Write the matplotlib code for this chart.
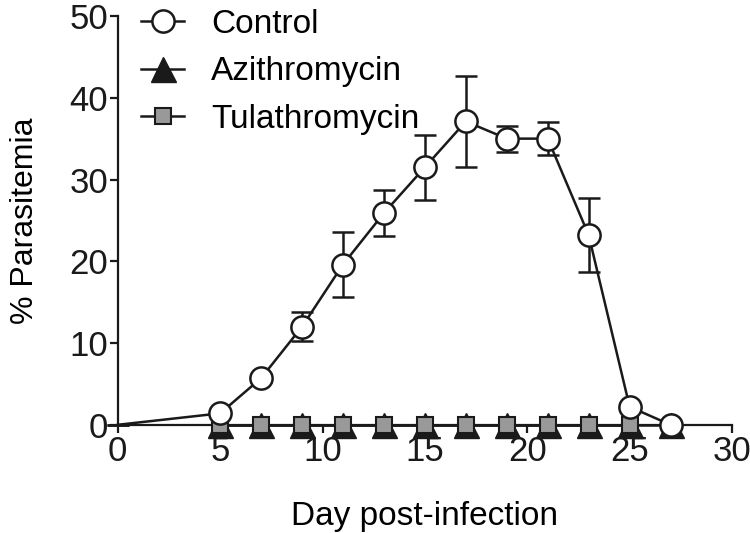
import matplotlib
matplotlib.use('Agg')
import matplotlib.pyplot as plt

# data
control_days = [0, 5, 7, 9, 11, 13, 15, 17, 19, 21, 23, 25, 27]
control_vals = [0, 1.4, 5.7, 12.0, 19.6, 25.9, 31.5, 37.1, 35.0, 35.0, 23.2, 2.2, 0]
control_err = [0, 0.3, 0.5, 1.8, 4.0, 2.8, 4.0, 5.6, 1.6, 2.0, 4.5, 0.3, 0]
azi_days = [5, 7, 9, 11, 13, 15, 17, 19, 21, 23, 25, 27]
azi_vals = [0, 0, 0, 0, 0, 0, 0, 0, 0, 0, 0, 0]
tula_days = [5, 7, 9, 11, 13, 15, 17, 19, 21, 23, 25]
tula_vals = [0, 0, 0, 0, 0, 0, 0, 0, 0, 0, 0]

x_ticks = [0, 5, 10, 15, 20, 25, 30]
y_ticks = [0, 10, 20, 30, 40, 50]

plt.rcParams['font.family'] = ['Liberation Sans', 'DejaVu Sans']
plt.rcParams['font.size'] = 24

fig = plt.figure(figsize=(7.5, 5.33), dpi=100)
ax = fig.add_axes([0.157, 0.203, 0.819, 0.767])

lw = 1.8
ink = '#1a1a1a'
ax.plot(azi_days, azi_vals, '-', color=ink, lw=lw, marker='^',
        markersize=18, markerfacecolor=ink, markeredgecolor=ink,
        clip_on=False, zorder=3, label='Azithromycin')
ax.plot(tula_days, tula_vals, '-', color=ink, lw=lw, marker='s',
        markersize=12, markerfacecolor='#999999', markeredgecolor=ink,
        markeredgewidth=1.5, clip_on=False, zorder=4, label='Tulathromycin')
ax.errorbar(control_days, control_vals, yerr=control_err, fmt='none',
            ecolor=ink, elinewidth=lw, capsize=8, capthick=lw,
            clip_on=False, zorder=5)
ax.plot(control_days, control_vals, '-', color=ink, lw=lw, marker='o',
        markersize=16, markerfacecolor='white', markeredgecolor=ink,
        markeredgewidth=1.8, markevery=list(range(1, len(control_days))),
        clip_on=False, zorder=6, label='Control')

ax.set_xlim(0, 30)
ax.set_ylim(0, 50)
ax.set_xticks(x_ticks)
ax.set_yticks(y_ticks)
ax.spines['top'].set_visible(False)
ax.spines['right'].set_visible(False)
for s in ['left', 'bottom']:
    ax.spines[s].set_linewidth(1.6)
    ax.spines[s].set_color(ink)
ax.tick_params(width=1.6, length=6, pad=1, colors=ink, labelcolor=ink,
               labelsize=25)

ax.set_xlabel('Day post-infection', labelpad=24)
ax.set_ylabel('% Parasitemia', labelpad=21, fontsize=23)

h, l = ax.get_legend_handles_labels()
order = [2, 0, 1]
ax.legend([h[i] for i in order], [l[i] for i in order], loc='upper left',
          bbox_to_anchor=(0.0, 1.075), frameon=False, handlelength=1.3,
          handletextpad=0.8, labelspacing=0.5, borderaxespad=0.3)

fig.savefig('out.png', dpi=100)
